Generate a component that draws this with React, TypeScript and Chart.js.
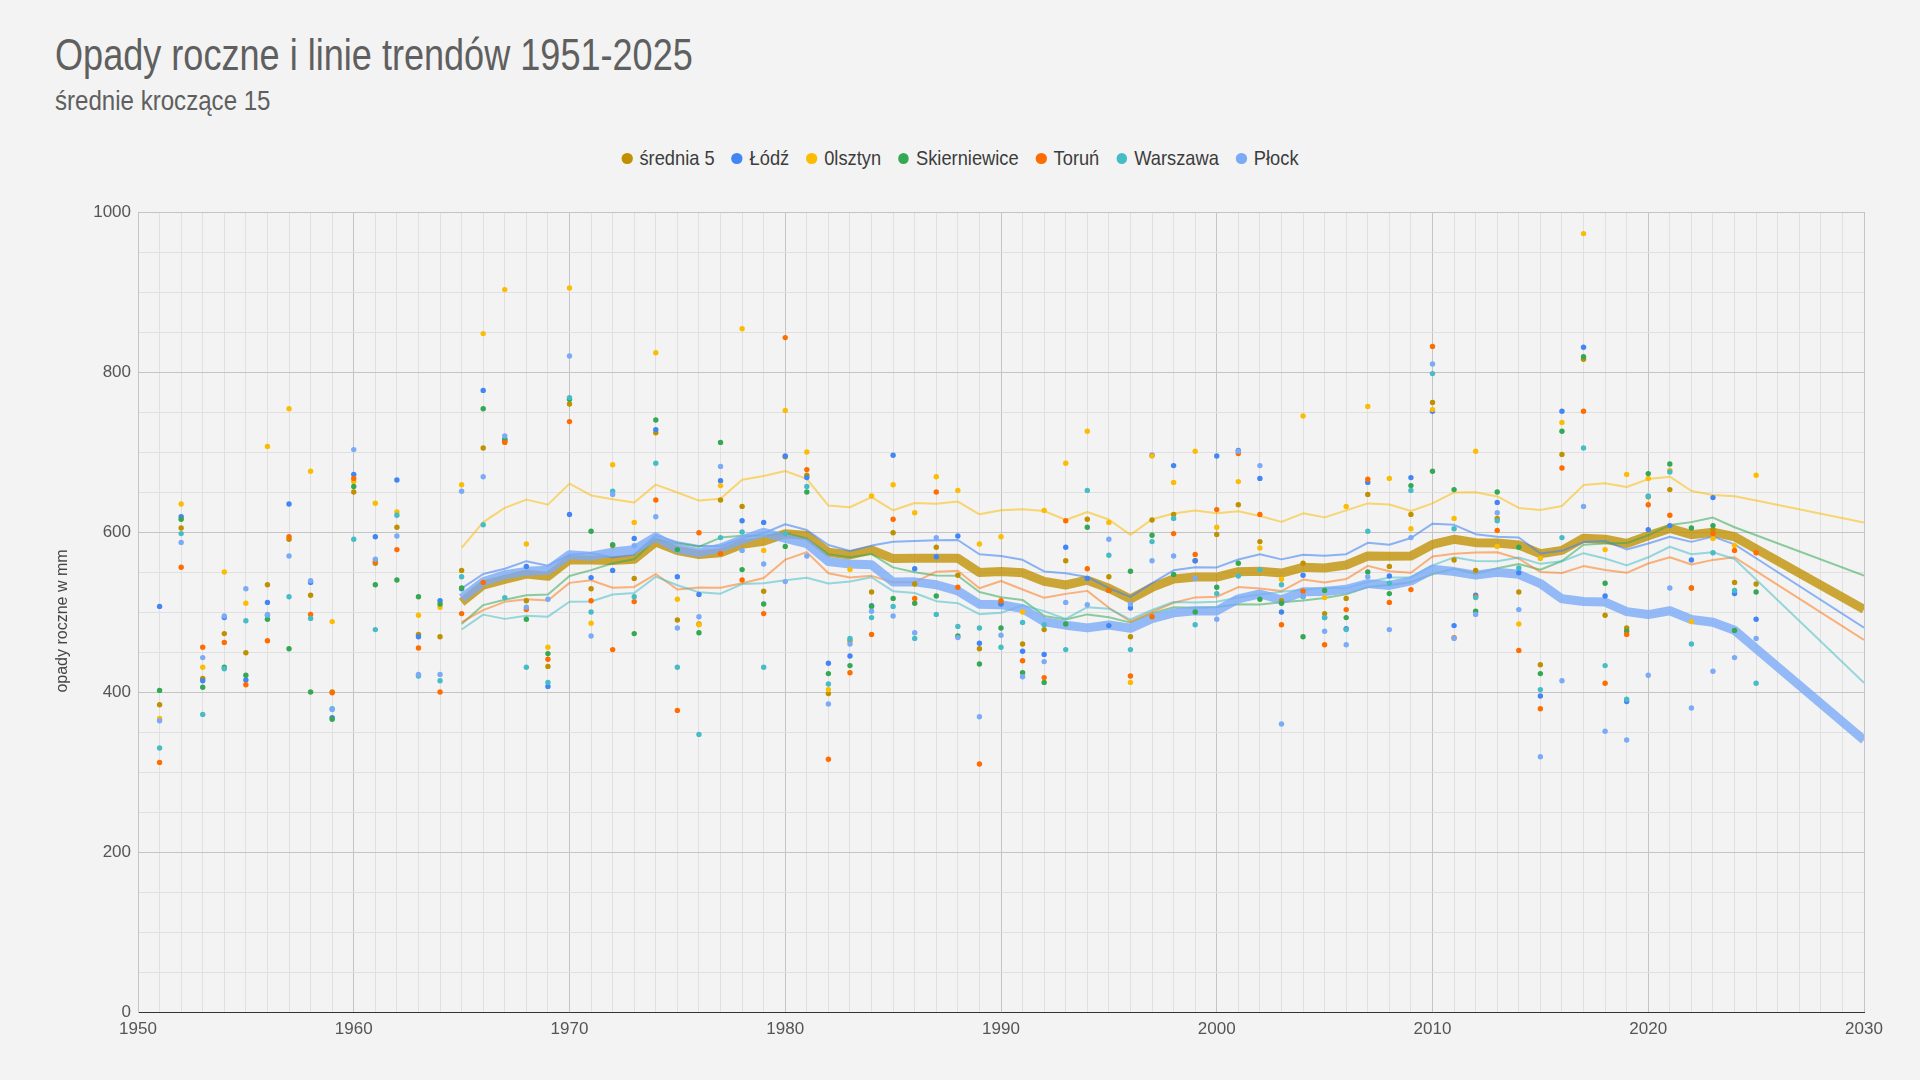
import React, { useEffect, useRef } from 'react';
import { Chart, registerables } from 'chart.js';

Chart.register(...registerables);

const years = [
  1951, 1952, 1953, 1954, 1955, 1956, 1957, 1958, 1959, 1960,
  1961, 1962, 1963, 1964, 1965, 1966, 1967, 1968, 1969, 1970,
  1971, 1972, 1973, 1974, 1975, 1976, 1977, 1978, 1979, 1980,
  1981, 1982, 1983, 1984, 1985, 1986, 1987, 1988, 1989, 1990,
  1991, 1992, 1993, 1994, 1995, 1996, 1997, 1998, 1999, 2000,
  2001, 2002, 2003, 2004, 2005, 2006, 2007, 2008, 2009, 2010,
  2011, 2012, 2013, 2014, 2015, 2016, 2017, 2018, 2019, 2020,
  2021, 2022, 2023, 2024, 2025,
];

const srednia5 = [
  384, 605, 417, 473, 449, 534, 591, 521, 400, 650,
  561, 606, 472, 469, 552, 705, 713, 514, 432, 760,
  529, 583, 542, 724, 490, 485, 640, 632, 526, 694,
  671, 398, 464, 525, 599, 535, 581, 546, 454, 511,
  460, 478, 564, 616, 544, 469, 615, 622, 564, 597,
  634, 588, 514, 561, 498, 517, 647, 557, 622, 762,
  565, 552, 617, 525, 434, 697, 816, 496, 480, 644,
  653, 530, 603, 537, 535,
];

const lodz = [
  507, 619, 414, 493, 415, 512, 635, 537, 368, 672,
  594, 665, 469, 514, 529, 777, 716, 557, 407, 622,
  543, 552, 592, 728, 544, 522, 664, 614, 612, 695,
  668, 436, 445, 508, 696, 554, 569, 595, 461, 510,
  451, 447, 581, 542, 483, 505, 696, 683, 564, 695,
  702, 667, 500, 546, 493, 479, 662, 545, 668, 751,
  483, 521, 637, 549, 395, 751, 831, 520, 388, 603,
  608, 565, 643, 523, 491,
];

const olsztyn = [
  367, 635, 431, 550, 511, 707, 754, 676, 488, 663,
  636, 625, 496, 506, 659, 848, 903, 585, 456, 905,
  486, 684, 612, 824, 516, 484, 658, 854, 577, 752,
  700, 403, 553, 645, 659, 624, 669, 652, 585, 594,
  500, 627, 686, 726, 612, 412, 695, 662, 701, 606,
  663, 580, 541, 745, 518, 632, 757, 667, 604, 753,
  617, 701, 582, 485, 567, 737, 973, 578, 672, 667,
  677, 488, 592, 583, 671,
];

const skierniewice = [
  402, 616, 406, 431, 421, 491, 454, 400, 366, 657,
  534, 540, 519, 510, 530, 754, 715, 491, 448, 766,
  601, 584, 473, 740, 578, 474, 712, 553, 510, 582,
  650, 423, 433, 507, 517, 511, 520, 470, 435, 480,
  424, 412, 485, 606, 527, 551, 596, 547, 500, 531,
  561, 516, 511, 469, 527, 493, 550, 523, 658, 676,
  653, 501, 650, 581, 423, 726, 819, 536, 476, 673,
  685, 605, 608, 477, 525,
];

const torun = [
  312, 556, 456, 462, 409, 464, 594, 497, 399, 667,
  563, 578, 455, 400, 498, 537, 712, 503, 441, 738,
  514, 453, 513, 640, 377, 599, 573, 540, 498, 843,
  678, 316, 424, 472, 616, 517, 650, 531, 310, 514,
  439, 418, 614, 554, 527, 420, 494, 598, 572, 628,
  698, 622, 484, 526, 459, 503, 666, 512, 528, 832,
  468, 519, 602, 452, 379, 680, 751, 411, 472, 634,
  621, 530, 598, 577, 574,
];

const warszawa = [
  330, 598, 372, 429, 489, 496, 519, 492, 379, 591,
  478, 621, 420, 414, 544, 609, 518, 431, 412, 768,
  500, 651, 519, 686, 431, 347, 593, 600, 431, 598,
  657, 410, 467, 493, 507, 467, 497, 482, 480, 456,
  487, 484, 453, 652, 571, 453, 588, 617, 484, 523,
  545, 553, 534, 519, 493, 478, 601, 536, 652, 798,
  604, 518, 614, 555, 403, 593, 705, 433, 391, 645,
  675, 460, 574, 527, 411,
];

const plock = [
  364, 587, 443, 495, 529, 497, 570, 539, 378, 703,
  566, 595, 422, 422, 651, 669, 720, 506, 516, 820,
  470, 647, 583, 619, 480, 494, 682, 577, 560, 538,
  570, 385, 460, 501, 495, 474, 593, 468, 369, 471,
  419, 438, 512, 509, 591, 510, 564, 570, 542, 491,
  701, 683, 360, 520, 476, 459, 544, 478, 593, 810,
  467, 497, 624, 503, 319, 414, 632, 351, 340, 421,
  530, 380, 426, 443, 467,
];

const seriesNames = ['średnia 5', 'Łódź', 'Olsztyn', 'Skierniewice', 'Toruń', 'Warszawa', 'Płock'];
const legendNames = ['średnia 5', 'Łódź', '0lsztyn', 'Skierniewice', 'Toruń', 'Warszawa', 'Płock'];
const seriesValues = [srednia5, lodz, olsztyn, skierniewice, torun, warszawa, plock];
const seriesColors = ['#bf9000', '#4285f4', '#fbbc04', '#34a853', '#ff6d01', '#46bdc6', '#7baaf7'];
const trendColors = [
  'rgba(191,144,0,0.78)',
  'rgba(66,133,244,0.6)',
  'rgba(251,188,4,0.55)',
  'rgba(52,168,83,0.55)',
  'rgba(255,109,1,0.5)',
  'rgba(70,189,198,0.55)',
  'rgba(123,170,247,0.8)',
];
const trendWidths = [9, 2, 2, 2, 2, 2, 9];

const xMin = 1950;
const xMax = 2030;
const yMin = 0;
const yMax = 1000;
const period = 15;

const FONT = '"Liberation Sans", Arial, sans-serif';

// Moving-average trendline (period 15) as drawn by the sheet, last segment extended to the axis end
function movingAverage(xs: number[], ys: number[], n: number, end: number) {
  const out: { x: number; y: number }[] = [];
  for (let i = n - 1; i < ys.length; i++) {
    let s = 0;
    for (let k = i - n + 1; k <= i; k++) s += ys[k];
    out.push({ x: xs[i], y: s / n });
  }
  const a = out[out.length - 2];
  const b = out[out.length - 1];
  out.push({ x: end, y: b.y + ((b.y - a.y) * (end - b.x)) / (b.x - a.x) });
  return out;
}

const LEG_SCALE = 0.87;

export default function App() {
  const ref = useRef<HTMLCanvasElement | null>(null);

  useEffect(() => {
    if (!ref.current) return;
    const datasets: any[] = [];
    seriesValues.forEach((vals, i) => {
      datasets.push({
        type: 'scatter',
        label: seriesNames[i],
        data: years.map((y, k) => ({ x: y, y: vals[k] })),
        backgroundColor: seriesColors[i],
        borderColor: seriesColors[i],
        borderWidth: 0,
        pointRadius: 2.7,
        order: 6 - i,
      });
    });
    seriesValues.forEach((vals, i) => {
      datasets.push({
        type: 'line',
        label: seriesNames[i] + ' trend',
        data: movingAverage(years, vals, period, xMax),
        borderColor: trendColors[i],
        backgroundColor: trendColors[i],
        borderWidth: trendWidths[i],
        pointRadius: 0,
        tension: 0,
        fill: false,
        borderJoinStyle: 'round',
        borderCapStyle: 'butt',
        order: 30 - i,
      });
    });

    const major = '#c4c4c4';
    const minor = '#e0e0e0';

    const chart = new Chart(ref.current, {
      type: 'scatter',
      data: { datasets },
      options: {
        animation: false,
        responsive: false,
        events: [],
        layout: { padding: { top: 212, right: 56, left: 0, bottom: 0 } },
        plugins: {
          legend: { display: false },
          title: { display: false },
          tooltip: { enabled: false },
        },
        scales: {
          x: {
            type: 'linear',
            min: xMin,
            max: xMax,
            afterFit: (s: any) => {
              s.height = 68;
            },
            ticks: {
              stepSize: 1,
              autoSkip: false,
              maxRotation: 0,
              padding: 7,
              color: '#555555',
              font: { family: FONT, size: 17 },
              callback: (v: any) => (Number(v) % 10 === 0 ? String(v) : ''),
            },
            grid: {
              drawTicks: false,
              color: (c: any) => (c.tick && c.tick.value % 10 === 0 ? major : minor),
            },
            border: { display: true, color: '#333333', width: 1 },
          },
          y: {
            type: 'linear',
            min: yMin,
            max: yMax,
            afterFit: (s: any) => {
              s.width = 138;
            },
            title: { display: false },
            ticks: {
              stepSize: 50,
              autoSkip: false,
              padding: 7,
              color: '#555555',
              font: { family: FONT, size: 17 },
              callback: (v: any) => (Number(v) % 200 === 0 ? String(v) : ''),
            },
            grid: {
              drawTicks: false,
              color: (c: any) => (c.tick && c.tick.value % 200 === 0 ? major : minor),
            },
            border: { display: true, color: major, width: 1 },
          },
        },
      } as any,
    });
    return () => chart.destroy();
  }, []);

  return (
    <div
      style={{
        position: 'fixed',
        left: 0,
        top: 0,
        width: 1920,
        height: 1080,
        background: '#f3f3f3',
        overflow: 'hidden',
        fontFamily: FONT,
      }}
    >
      <div
        style={{
          position: 'absolute',
          left: 55,
          top: 33,
          fontSize: 44,
          lineHeight: '44px',
          color: '#5f5f5f',
          whiteSpace: 'nowrap',
          transform: 'scaleX(0.82)',
          transformOrigin: '0 0',
        }}
      >
        Opady roczne i linie trendów 1951-2025
      </div>
      <div
        style={{
          position: 'absolute',
          left: 55,
          top: 87,
          fontSize: 28,
          lineHeight: '28px',
          color: '#5f5f5f',
          whiteSpace: 'nowrap',
          transform: 'scaleX(0.86)',
          transformOrigin: '0 0',
        }}
      >
        średnie kroczące 15
      </div>
      <div
        style={{
          position: 'absolute',
          left: 0,
          top: 147,
          width: 1920,
          height: 22,
          display: 'flex',
          justifyContent: 'center',
          alignItems: 'center',
          fontSize: 21,
          lineHeight: '22px',
          color: '#3c3c3c',
          transform: `scaleX(${LEG_SCALE})`,
          transformOrigin: '960px 0',
        }}
      >
        {legendNames.map((n, i) => (
          <div
            key={n}
            style={{ display: 'flex', alignItems: 'center', marginRight: i < legendNames.length - 1 ? 17 / LEG_SCALE : 0 }}
          >
            <span
              style={{
                display: 'inline-block',
                width: 11 / LEG_SCALE,
                height: 11,
                borderRadius: '50%',
                background: seriesColors[i],
                marginRight: 7 / LEG_SCALE,
              }}
            />
            <span style={{ whiteSpace: 'nowrap' }}>{n}</span>
          </div>
        ))}
      </div>
      <canvas ref={ref} width={1920} height={1080} style={{ position: 'absolute', left: 0, top: 0, width: 1920, height: 1080 }} />
      <div
        style={{
          position: 'absolute',
          left: 62 - 120,
          top: 621 - 10,
          width: 240,
          height: 20,
          lineHeight: '20px',
          textAlign: 'center',
          fontSize: 16,
          color: '#444444',
          whiteSpace: 'nowrap',
          transform: 'rotate(-90deg)',
          transformOrigin: '50% 50%',
        }}
      >
        opady roczne w mm
      </div>
    </div>
  );
}
